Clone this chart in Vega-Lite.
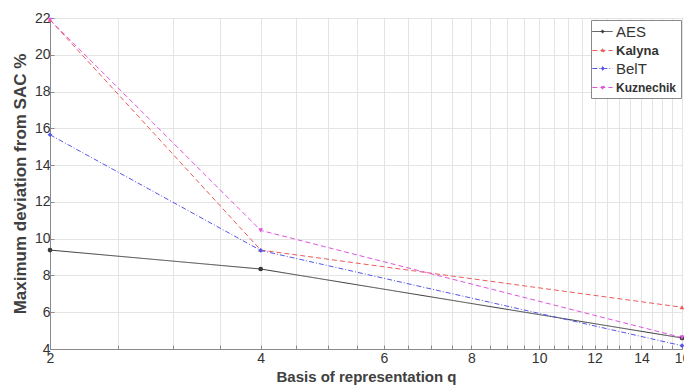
{
  "$schema": "https://vega.github.io/schema/vega-lite/v6.json",
  "autosize": {"type": "none"},
  "padding": {"left": 50, "top": 18, "right": 2, "bottom": 41},
  "width": 632,
  "height": 331,
  "background": "white",
  "config": {
    "font": "Liberation Sans",
    "view": {"stroke": "#8a8a8a", "strokeWidth": 1}
  },
  "data": {
    "values": [
      {"cipher": "AES", "q": 2, "dev": 9.38},
      {"cipher": "AES", "q": 4, "dev": 8.35},
      {"cipher": "AES", "q": 16, "dev": 4.6},
      {"cipher": "Kalyna", "q": 2, "dev": 21.9},
      {"cipher": "Kalyna", "q": 4, "dev": 9.38},
      {"cipher": "Kalyna", "q": 16, "dev": 6.27},
      {"cipher": "BelT", "q": 2, "dev": 15.65},
      {"cipher": "BelT", "q": 4, "dev": 9.36},
      {"cipher": "BelT", "q": 16, "dev": 4.18},
      {"cipher": "Kuznechik", "q": 2, "dev": 21.9},
      {"cipher": "Kuznechik", "q": 4, "dev": 10.45},
      {"cipher": "Kuznechik", "q": 16, "dev": 4.62}
    ]
  },
  "encoding": {
    "x": {
      "field": "q",
      "type": "quantitative",
      "scale": {"type": "log", "base": 2, "domain": [2, 16], "nice": false},
      "axis": {
        "title": "Basis of representation q",
        "values": [2, 2.5, 3, 3.5, 4, 4.5, 5, 5.5, 6, 6.5, 7, 7.5, 8, 8.5, 9, 9.5, 10, 10.5, 11, 11.5, 12, 12.5, 13, 13.5, 14, 14.5, 15, 15.5, 16],
        "labelExpr": "datum.value % 2 == 0 ? format(datum.value, 'd') : ''",
        "grid": true,
        "gridColor": "#e4e4e4",
        "gridWidth": 1,
        "domainColor": "#8a8a8a",
        "tickColor": "#8a8a8a",
        "tickSize": -4,
        "labelPadding": 6,
        "labelFontSize": 14,
        "labelColor": "#333333",
        "labelFlush": false,
        "titleFontSize": 15,
        "titleFontWeight": "bold",
        "titleColor": "#404040",
        "titlePadding": 4
      }
    },
    "y": {
      "field": "dev",
      "type": "quantitative",
      "scale": {"domain": [4, 22], "nice": false, "zero": false},
      "axis": {
        "title": "Maximum deviation from SAC %",
        "values": [4, 6, 8, 10, 12, 14, 16, 18, 20, 22],
        "grid": true,
        "gridColor": "#e4e4e4",
        "domainColor": "#8a8a8a",
        "tickColor": "#8a8a8a",
        "tickSize": -4,
        "labelPadding": 4,
        "labelFontSize": 14,
        "labelColor": "#333333",
        "titleFontSize": 17,
        "titleFontWeight": "bold",
        "titleColor": "#404040",
        "titlePadding": 5
      }
    },
    "color": {
      "field": "cipher",
      "type": "nominal",
      "scale": {
        "domain": ["AES", "Kalyna", "BelT", "Kuznechik"],
        "range": ["#3a3a3a", "#ee5a5a", "#5555e8", "#e055e0"]
      },
      "legend": {
        "title": null,
        "orient": "none",
        "legendX": 541,
        "legendY": 2,
        "fillColor": "white",
        "strokeColor": "#8a8a8a",
        "padding": 4,
        "rowPadding": 3,
        "symbolSize": 196,
        "symbolStrokeWidth": 1,
        "symbolType": {"expr": "datum.value === 'AES' ? 'M-1.45,0H1.45M0.22,0L0,0.22L-0.22,0L0,-0.22Z' : datum.value === 'Kalyna' ? 'M-1.45,0H1.45M0,-0.25L0.25,0.18L-0.25,0.18Z' : datum.value === 'BelT' ? 'M-1.45,0H1.45M0,-0.28L0.22,0L0,0.28L-0.22,0Z' : 'M-1.45,0H1.45M0,0.25L0.25,-0.18L-0.25,-0.18Z'"},
        "labelOffset": 6,
        "labelColor": "#333333",
        "labelFontSize": 13,
        "encode": {
          "labels": {
            "update": {
              "fontWeight": {"signal": "datum.value === 'AES' || datum.value === 'BelT' ? 'normal' : 'bold'"},
              "fontSize": {"signal": "datum.value === 'AES' || datum.value === 'BelT' ? 15 : (datum.value === 'Kalyna' ? 13 : 12)"}
            }
          }
        }
      }
    }
  },
  "resolve": {"scale": {"shape": "independent"}, "legend": {"shape": "independent"}},
  "layer": [
    {
      "mark": {"type": "line", "strokeWidth": 1},
      "encoding": {
        "strokeDash": {
          "field": "cipher",
          "type": "nominal",
          "scale": {
            "domain": ["AES", "Kalyna", "BelT", "Kuznechik"],
            "range": [[1, 0], [5, 3], [5, 2, 1, 2], [5, 3]]
          }
        }
      }
    },
    {
      "mark": {"type": "point", "filled": true, "size": 22, "opacity": 1},
      "encoding": {
        "shape": {
          "field": "cipher",
          "type": "nominal",
          "scale": {
            "domain": ["AES", "Kalyna", "BelT", "Kuznechik"],
            "range": ["circle", "triangle-up", "diamond", "triangle-down"]
          },
          "legend": null
        }
      }
    }
  ]
}
